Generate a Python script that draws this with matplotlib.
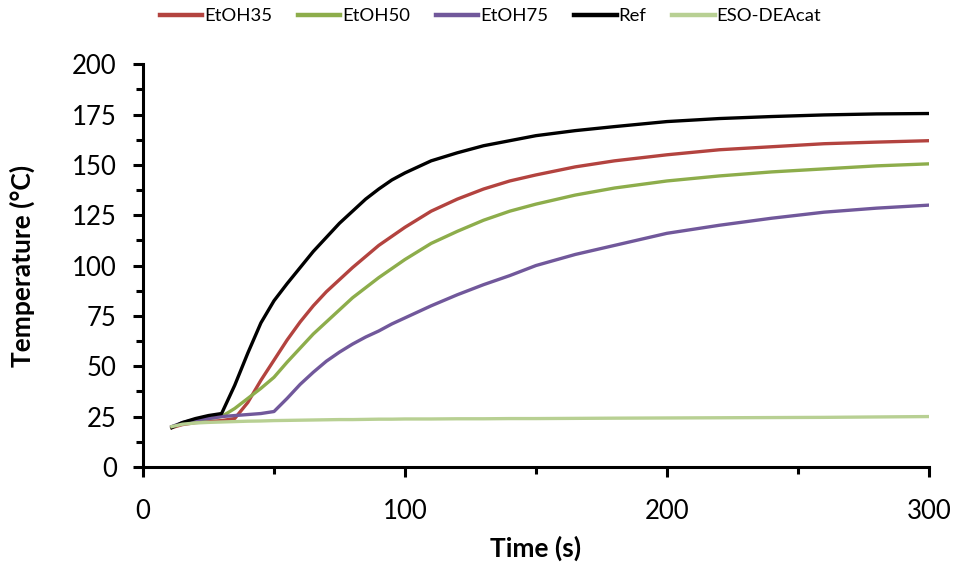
import numpy as np
import matplotlib.pyplot as plt
from matplotlib.ticker import MultipleLocator

# Time axis shared by all series (s)
time_s = [11, 15, 20, 25, 30, 35, 40, 45, 50, 55, 60, 65, 70, 75, 80, 85, 90, 95,
          100, 110, 120, 130, 140, 150, 165, 180, 200, 220, 240, 260, 280, 300]

# Temperatures (degC)
etoh35 = [19.5, 21, 22, 22.5, 23, 24, 32, 43, 53, 63, 72, 80, 87, 93, 99, 104.5, 110, 114.5,
          119, 127, 133, 138, 142, 145, 149, 152, 155, 157.5, 159, 160.5, 161.3, 162]
etoh50 = [20, 21.5, 23, 24, 25, 29, 34, 39, 44.5, 52, 59, 66, 72, 78, 84, 89, 94, 98.5,
          103, 111, 117, 122.5, 127, 130.5, 135, 138.5, 142, 144.5, 146.5, 148, 149.5, 150.5]
etoh75 = [20, 22, 23.5, 24, 25, 25.5, 26, 26.5, 27.5, 34, 41, 47, 52.5, 57, 61, 64.5, 67.5, 71,
          74, 80, 85.5, 90.5, 95, 100, 105.5, 110, 116, 120, 123.5, 126.5, 128.5, 130]
ref = [19.5, 22, 24, 25.5, 26.5, 40.5, 56.5, 71.5, 82.5, 91, 99, 107, 114, 121, 127, 133, 138, 142.5,
       146, 152, 156, 159.5, 162, 164.5, 167, 169, 171.5, 173, 174, 174.8, 175.3, 175.5]
eso_deacat = [20, 21.2, 21.8, 22.1, 22.3, 22.5, 22.7, 22.8, 23, 23.1, 23.2, 23.3, 23.4, 23.5, 23.5, 23.6, 23.7, 23.7,
              23.8, 23.8, 23.9, 23.9, 24, 24, 24.1, 24.2, 24.3, 24.4, 24.5, 24.6, 24.8, 25]

series = [("EtOH35", etoh35, "#B3433F"),
          ("EtOH50", etoh50, "#8DAD4B"),
          ("EtOH75", etoh75, "#71589B"),
          ("Ref", ref, "#000000"),
          ("ESO-DEAcat", eso_deacat, "#B8D093")]

plt.rcParams['font.family'] = ['Lato', 'DejaVu Sans']

fig = plt.figure(figsize=(9.56, 5.68), dpi=100)
ax = fig.add_axes([0.1496, 0.178, 0.822, 0.709])

for name, vals, col in series:
    ax.plot(time_s, vals, color=col, lw=2.4, label=name)

ax.set_xlim(0, 300)
ax.set_ylim(0, 200)
ax.xaxis.set_major_locator(MultipleLocator(100))
ax.xaxis.set_minor_locator(MultipleLocator(50))
ax.yaxis.set_major_locator(MultipleLocator(25))
ax.yaxis.set_minor_locator(MultipleLocator(12.5))

for s in ['top', 'right']:
    ax.spines[s].set_visible(False)
for s in ['left', 'bottom']:
    ax.spines[s].set_linewidth(2.2)

ax.tick_params(which='major', direction='out', length=7, width=2.2, labelsize=18.5)
ax.tick_params(which='minor', direction='out', length=5, width=2.2)
ax.tick_params(axis='y', which='major', pad=12)
ax.tick_params(axis='x', which='major', pad=16)

ax.set_xlabel('Time (s)', fontsize=19, fontweight='bold')
ax.set_ylabel('Temperature (°C)', fontsize=19, fontweight='bold')
ax.xaxis.set_label_coords(0.5, -0.201)
ax.xaxis.label.set_va('center')
ax.yaxis.set_label_coords(-0.153, 0.5)
ax.yaxis.label.set_va('center')

leg = fig.legend(loc='upper center', bbox_to_anchor=(0.513, 1.015), ncol=5, frameon=False,
                 fontsize=13.3, handlelength=2.3, columnspacing=1.4, handletextpad=0.1)
for h in leg.get_lines():
    h.set_linewidth(3.2)

fig.savefig('out.png', dpi=100)
